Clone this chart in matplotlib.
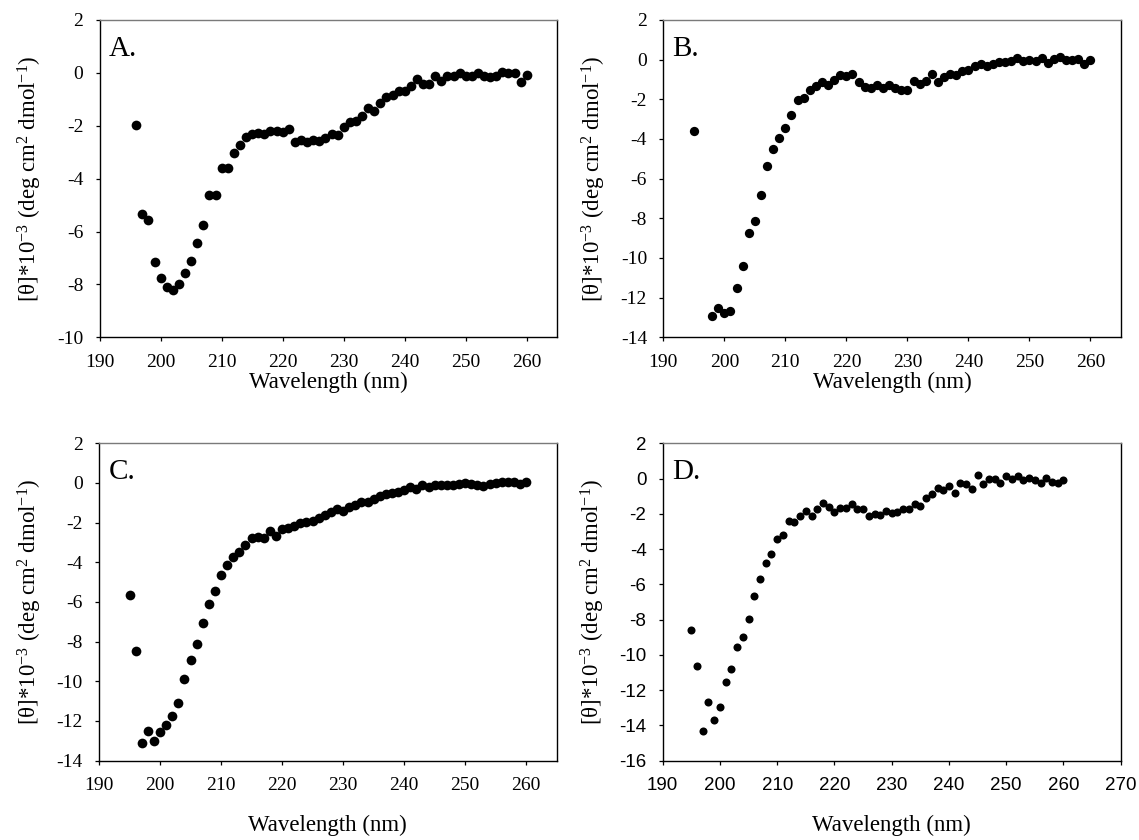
import matplotlib
matplotlib.use("Agg")
import matplotlib.pyplot as plt

plt.rcParams["font.family"] = ["Liberation Serif", "DejaVu Serif"]
plt.rcParams["mathtext.fontset"] = "custom"
plt.rcParams["mathtext.rm"] = "Liberation Serif"
plt.rcParams["mathtext.it"] = "Liberation Serif:italic"
plt.rcParams["axes.unicode_minus"] = False

# ---- CD spectra, mean residue ellipticity x 10^-3 ----
wl_a = list(range(196, 261))
theta_a = [-1.97, -5.35, -5.55, -7.16, -7.77, -8.11, -8.23, -7.98, -7.56, -7.11,
           -6.42, -5.75, -4.63, -4.60, -3.59, -3.58, -3.03, -2.72, -2.43, -2.32,
           -2.27, -2.31, -2.18, -2.21, -2.23, -2.13, -2.62, -2.53, -2.60, -2.52,
           -2.59, -2.45, -2.32, -2.35, -2.06, -1.85, -1.81, -1.63, -1.32, -1.43,
           -1.14, -0.93, -0.83, -0.70, -0.67, -0.50, -0.24, -0.42, -0.42, -0.11,
           -0.29, -0.13, -0.10, 0.00, -0.13, -0.13, 0.01, -0.13, -0.17, -0.12,
           0.03, 0.01, -0.02, -0.35, -0.07]

wl_b = [195] + list(range(198, 261))
theta_b = [-3.59, -12.92, -12.53, -12.75, -12.65, -11.51, -10.39, -8.76, -8.15, -6.80,
           -5.37, -4.51, -3.94, -3.46, -2.77, -2.05, -1.93, -1.54, -1.34, -1.12,
           -1.26, -1.04, -0.79, -0.81, -0.74, -1.12, -1.38, -1.41, -1.29, -1.41,
           -1.29, -1.41, -1.51, -1.54, -1.07, -1.21, -1.09, -0.70, -1.14, -0.87,
           -0.70, -0.76, -0.57, -0.54, -0.30, -0.20, -0.34, -0.23, -0.12, -0.13,
           -0.08, 0.08, -0.08, -0.03, -0.07, 0.10, -0.17, 0.05, 0.13, -0.03,
           0.00, 0.03, -0.20, 0.00]

wl_c = list(range(195, 261))
theta_c = [-5.64, -8.49, -13.09, -12.51, -12.99, -12.54, -12.18, -11.76, -11.08, -9.87,
           -8.94, -8.10, -7.06, -6.09, -5.44, -4.66, -4.13, -3.74, -3.46, -3.15,
           -2.79, -2.70, -2.77, -2.43, -2.65, -2.32, -2.27, -2.16, -2.03, -1.98,
           -1.90, -1.76, -1.64, -1.48, -1.33, -1.43, -1.22, -1.09, -0.94, -0.97,
           -0.81, -0.64, -0.55, -0.52, -0.47, -0.34, -0.22, -0.32, -0.10, -0.22,
           -0.10, -0.10, -0.10, -0.10, -0.05, 0.00, -0.05, -0.08, -0.13, -0.07,
           -0.02, 0.03, 0.05, 0.05, -0.05, 0.03]

wl_d = list(range(195, 261))
theta_d = [-8.58, -10.66, -14.30, -12.66, -13.68, -12.98, -11.55, -10.81, -9.55, -9.00,
           -7.98, -6.66, -5.70, -4.81, -4.28, -3.45, -3.19, -2.42, -2.45, -2.13,
           -1.85, -2.15, -1.70, -1.38, -1.60, -1.89, -1.66, -1.66, -1.42, -1.75,
           -1.75, -2.13, -2.02, -2.09, -1.83, -1.98, -1.89, -1.75, -1.75, -1.47,
           -1.55, -1.13, -0.85, -0.53, -0.66, -0.42, -0.81, -0.28, -0.32, -0.58,
           0.21, -0.32, -0.04, -0.02, -0.28, 0.17, -0.02, 0.13, -0.09, 0.04,
           -0.09, -0.28, 0.02, -0.17, -0.28, -0.06]

panel_letters = ["A.", "B.", "C.", "D."]
x_label = "Wavelength (nm)"
y_label = r"[θ]*10$^{\mathrm{-3}}$ (deg cm$^{\mathrm{2}}$ dmol$^{\mathrm{-1}}$)"

fig = plt.figure(figsize=(11.39, 8.40), dpi=100)
W, H = 1139.0, 840.0

panels = [
    # (left px, top px, width px, height px, x, y, xlim, xticks, ylim, yticks, marker size, tick font, xlabel y)
    (99.6, 20.0, 457.7, 317.3, wl_a, theta_a, (190, 265), range(190, 261, 10),
     (-10, 2), range(-10, 3, 2), 7.0, "Liberation Serif", -0.110),
    (663.3, 20.0, 457.7, 317.3, wl_b, theta_b, (190, 265), range(190, 261, 10),
     (-14, 2), range(-14, 3, 2), 6.7, "Liberation Serif", -0.110),
    (99.0, 443.3, 457.7, 317.3, wl_c, theta_c, (190, 265), range(190, 261, 10),
     (-14, 2), range(-14, 3, 2), 7.0, "Liberation Serif", -0.170),
    (662.7, 443.3, 458.0, 317.3, wl_d, theta_d, (190, 270), range(190, 271, 10),
     (-16, 2), range(-16, 3, 2), 5.8, "Liberation Sans", -0.170),
]

for letter, (lp, tp, wp, hp, xs, ys, xl, xt, yl, yt, ms, tfont, xlab_y) in zip(panel_letters, panels):
    ax = fig.add_axes([lp / W, 1 - (tp + hp) / H, wp / W, hp / H])
    ax.plot(xs, ys, linestyle="none", marker="o", markersize=ms,
            markerfacecolor="black", markeredgewidth=0, color="black")
    ax.set_xlim(*xl)
    ax.set_ylim(*yl)
    ax.set_xticks(list(xt))
    ax.set_yticks(list(yt))
    ax.tick_params(axis="both", direction="out", length=3.2, width=0.9,
                   pad=8.5, labelsize=14 if tfont == "Liberation Serif" else 13.5,
                   top=False, right=False)
    for lab in ax.get_xticklabels() + ax.get_yticklabels():
        lab.set_fontfamily(tfont)
    for side in ("left", "bottom", "right"):
        ax.spines[side].set_linewidth(1.0)
        ax.spines[side].set_color("black")
    ax.spines["top"].set_linewidth(1.0)
    ax.spines["top"].set_color("#7a7a7a")
    ax.set_xlabel(x_label, fontsize=16.5)
    ax.set_ylabel(y_label, fontsize=16.5)
    ax.xaxis.set_label_coords(0.5, xlab_y)
    ax.yaxis.set_label_coords(-0.121, 0.5)
    ax.text(0.0205, 0.8875, letter, transform=ax.transAxes, fontsize=21,
            ha="left", va="baseline")

fig.savefig("out.png", dpi=100)
